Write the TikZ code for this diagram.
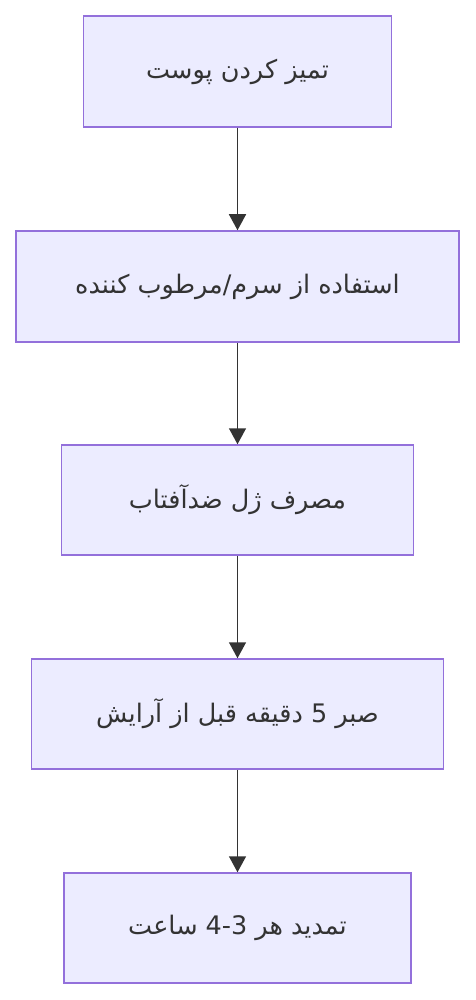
\documentclass[tikz,border=0pt]{standalone}
\usepackage{fontspec}
\newfontfamily\arabicfont[Script=Arabic]{DejaVu Sans}
\TeXXeTstate=1
\usetikzlibrary{arrows.meta}
\definecolor{boxfill}{HTML}{ECECFF}
\definecolor{boxline}{HTML}{9370DB}
\definecolor{arrowc}{HTML}{333333}
\begin{document}
\begin{tikzpicture}[x=1pt,y=-1pt,
  stepbox/.style={draw=boxline,fill=boxfill,line width=1.5pt,inner sep=0pt,font=\arabicfont\fontsize{25.5}{30}\selectfont,text=arrowc},
  flow/.style={draw=arrowc,line width=1.5pt,-{Triangle[length=16pt,width=17pt]}}]
\useasboundingbox (0,0) rectangle (475,1000);
\node[stepbox,minimum width=308pt,minimum height=111pt] (a) at (237.5,71.5) {\beginR تمیز کردن پوست\endR};
\node[stepbox,minimum width=443pt,minimum height=111pt] (b) at (237.5,286.5) {\beginR استفاده از سرم/مرطوب کننده\endR};
\node[stepbox,minimum width=352pt,minimum height=110pt] (c) at (237.5,500) {\beginR مصرف ژل ضدآفتاب\endR};
\node[stepbox,minimum width=412pt,minimum height=110pt] (d) at (237.5,714) {\beginR صبر \beginL 5\endL{} دقیقه قبل از آرایش\endR};
\node[stepbox,minimum width=347pt,minimum height=110pt] (e) at (237.5,928) {\beginR تمدید هر \beginL 4-3\endL{} ساعت\endR};
\draw[flow] (a) -- (b);
\draw[flow] (b) -- (c);
\draw[flow] (c) -- (d);
\draw[flow] (d) -- (e);
\end{tikzpicture}
\end{document}
